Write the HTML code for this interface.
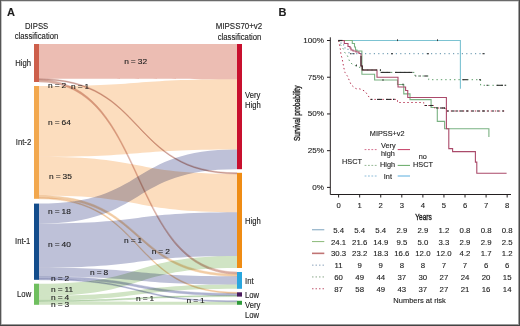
<!DOCTYPE html>
<html><head><meta charset="utf-8"><style>
html,body{margin:0;padding:0;background:#fff;}
svg{display:block;}
text{font-family:"Liberation Sans",sans-serif;fill:#1e1e1e;stroke:#1e1e1e;stroke-width:0.12px;}
</style></head><body>
<svg width="520" height="326" viewBox="0 0 520 326">
<rect x="0" y="0" width="520" height="326" fill="#fff"/>
<g>
<path d="M39,44.00C147.9,44.00 128.1,44.00 237,44.00L237,79.14C128.1,79.14 147.9,78.74 39,78.74Z" fill="#ecbdb3" style="mix-blend-mode:multiply"/>
<path d="M39,78.74C147.9,78.74 128.1,172.80 237,172.80L237,173.89C128.1,173.89 147.9,79.83 39,79.83Z" fill="#c8968c" stroke="#c8968c" stroke-width="0.45" style="mix-blend-mode:multiply"/>
<path d="M39,79.83C147.9,79.83 128.1,272.00 237,272.00L237,274.10C128.1,274.10 147.9,82.00 39,82.00Z" fill="#d9ada1" stroke="#d9ada1" stroke-width="0.45" style="mix-blend-mode:multiply"/>
<path d="M39,86.00C147.9,86.00 128.1,79.14 237,79.14L237,149.43C128.1,149.43 147.9,156.78 39,156.78Z" fill="#fcddbe" style="mix-blend-mode:multiply"/>
<path d="M39,156.78C147.9,156.78 128.1,173.89 237,173.89L237,212.19C128.1,212.19 147.9,195.48 39,195.48Z" fill="#fcddbe" style="mix-blend-mode:multiply"/>
<path d="M39,195.48C147.9,195.48 128.1,274.10 237,274.10L237,276.20C128.1,276.20 147.9,197.69 39,197.69Z" fill="#f2cca4" stroke="#f2cca4" stroke-width="0.45" style="mix-blend-mode:multiply"/>
<path d="M39,197.69C147.9,197.69 128.1,292.30 237,292.30L237,293.38C128.1,293.38 147.9,198.80 39,198.80Z" fill="#f0c498" stroke="#f0c498" stroke-width="0.45" style="mix-blend-mode:multiply"/>
<path d="M39,203.60C147.9,203.60 128.1,149.43 237,149.43L237,169.20C128.1,169.20 147.9,223.48 39,223.48Z" fill="#bec1d8" style="mix-blend-mode:multiply"/>
<path d="M39,223.48C147.9,223.48 128.1,212.19 237,212.19L237,255.96C128.1,255.96 147.9,267.65 39,267.65Z" fill="#bec1d8" style="mix-blend-mode:multiply"/>
<path d="M39,267.65C147.9,267.65 128.1,276.20 237,276.20L237,284.60C128.1,284.60 147.9,276.49 39,276.49Z" fill="#bec1d8" style="mix-blend-mode:multiply"/>
<path d="M39,276.49C147.9,276.49 128.1,293.38 237,293.38L237,295.52C128.1,295.52 147.9,278.70 39,278.70Z" fill="#aeb2d0" stroke="#aeb2d0" stroke-width="0.45" style="mix-blend-mode:multiply"/>
<path d="M39,278.70C147.9,278.70 128.1,300.80 237,300.80L237,301.80C128.1,301.80 147.9,279.80 39,279.80Z" fill="#a4a8ca" stroke="#a4a8ca" stroke-width="0.45" style="mix-blend-mode:multiply"/>
<path d="M39,283.70C147.9,283.70 128.1,255.96 237,255.96L237,268.00C128.1,268.00 147.9,295.92 39,295.92Z" fill="#d0e4c4" style="mix-blend-mode:multiply"/>
<path d="M39,295.92C147.9,295.92 128.1,284.60 237,284.60L237,288.80C128.1,288.80 147.9,300.36 39,300.36Z" fill="#d0e4c4" style="mix-blend-mode:multiply"/>
<path d="M39,300.36C147.9,300.36 128.1,295.52 237,295.52L237,296.60C128.1,296.60 147.9,301.47 39,301.47Z" fill="#b4d2aa" stroke="#b4d2aa" stroke-width="0.45" style="mix-blend-mode:multiply"/>
<path d="M39,301.47C147.9,301.47 128.1,301.80 237,301.80L237,304.80C128.1,304.80 147.9,304.80 39,304.80Z" fill="#d0e4c4" style="mix-blend-mode:multiply"/>
</g>
<rect x="34" y="44" width="5" height="38.00" fill="#cd5f4b"/>
<rect x="34" y="86" width="5" height="112.80" fill="#f2a84e"/>
<rect x="34" y="203.6" width="5" height="76.20" fill="#134d8c"/>
<rect x="34" y="283.7" width="5" height="21.10" fill="#6fbf5f"/>
<rect x="237" y="44" width="5" height="125.20" fill="#c8102e"/>
<rect x="237" y="172.8" width="5" height="95.20" fill="#ef8c14"/>
<rect x="237" y="272" width="5" height="16.80" fill="#29a6de"/>
<rect x="237" y="292.3" width="5" height="4.30" fill="#4a1a5c"/>
<rect x="237" y="300.8" width="5" height="4.00" fill="#2e9a3a"/>
<text transform="translate(7,16.4)" font-size="11" font-weight="bold" fill="#000">A</text>
<text transform="translate(36.6,29.3) scale(1.0,1.12)" font-size="7.7" text-anchor="middle">DIPSS</text>
<text transform="translate(36.5,38.7) scale(1.0,1.12)" font-size="7.7" text-anchor="middle">classification</text>
<text transform="translate(239,29.3) scale(1.03,1.12)" font-size="7.7" text-anchor="middle">MIPSS70+v2</text>
<text transform="translate(239.5,40.1) scale(1.0,1.12)" font-size="7.7" text-anchor="middle">classification</text>
<text transform="translate(31,65.8) scale(1.0,1.12)" font-size="7.7" text-anchor="end">High</text>
<text transform="translate(31.2,144.8) scale(1.0,1.12)" font-size="7.7" text-anchor="end">Int-2</text>
<text transform="translate(30.4,244) scale(1.0,1.12)" font-size="7.7" text-anchor="end">Int-1</text>
<text transform="translate(31.2,296.6) scale(1.0,1.12)" font-size="7.7" text-anchor="end">Low</text>
<text transform="translate(245,98.4) scale(1.0,1.12)" font-size="7.7">Very</text>
<text transform="translate(245,107.6) scale(1.0,1.12)" font-size="7.7">High</text>
<text transform="translate(245,224.2) scale(1.0,1.12)" font-size="7.7">High</text>
<text transform="translate(245,283.6) scale(1.0,1.12)" font-size="7.7">Int</text>
<text transform="translate(245,297.5) scale(1.0,1.12)" font-size="7.7">Low</text>
<text transform="translate(245,307.6) scale(1.0,1.12)" font-size="7.7">Very</text>
<text transform="translate(245,317.5) scale(1.0,1.12)" font-size="7.7">Low</text>
<text transform="translate(124.2,63.7) scale(1.12,1.0)" font-size="7.5" word-spacing="-0.3">n = 32</text>
<text transform="translate(48,87.8) scale(1.12,1.0)" font-size="7.5" word-spacing="-0.3">n = 2</text>
<text transform="translate(71,88.8) scale(1.12,1.0)" font-size="7.5" word-spacing="-0.3">n = 1</text>
<text transform="translate(48,124.5) scale(1.12,1.0)" font-size="7.5" word-spacing="-0.3">n = 64</text>
<text transform="translate(49,178.6) scale(1.12,1.0)" font-size="7.5" word-spacing="-0.3">n = 35</text>
<text transform="translate(48,213.9) scale(1.12,1.0)" font-size="7.5" word-spacing="-0.3">n = 18</text>
<text transform="translate(48,246.6) scale(1.12,1.0)" font-size="7.5" word-spacing="-0.3">n = 40</text>
<text transform="translate(124,243) scale(1.12,1.0)" font-size="7.5" word-spacing="-0.3">n = 1</text>
<text transform="translate(151.7,253.8) scale(1.12,1.0)" font-size="7.5" word-spacing="-0.3">n = 2</text>
<text transform="translate(90,275) scale(1.12,1.0)" font-size="7.5" word-spacing="-0.3">n = 8</text>
<text transform="translate(51,281) scale(1.12,1.0)" font-size="7.5" word-spacing="-0.3">n = 2</text>
<text transform="translate(51,291.9) scale(1.12,1.0)" font-size="7.5" word-spacing="-0.3">n = 11</text>
<text transform="translate(51,300) scale(1.12,1.0)" font-size="7.5" word-spacing="-0.3">n = 4</text>
<text transform="translate(51,306.5) scale(1.12,1.0)" font-size="7.5" word-spacing="-0.3">n = 3</text>
<text transform="translate(136,300.8) scale(1.12,1.0)" font-size="7.5" word-spacing="-0.3">n = 1</text>
<text transform="translate(186.5,302.5) scale(1.12,1.0)" font-size="7.5" word-spacing="-0.3">n = 1</text>
<path d="M338.60,40.50 L460.40,40.50 L460.40,88.80" fill="none" stroke="#7cc3d2" stroke-width="1.1"/>
<path d="M338.60,40.50 L352.30,40.50 L352.30,43.50 L354.50,43.50 L354.50,47.00 L355.50,47.00 L355.50,50.00 L357.00,50.00 L357.00,51.00 L361.90,51.00 L361.90,74.20 L374.60,74.20 L374.60,80.00 L397.50,80.00 L397.50,84.50 L403.75,84.50 L403.75,93.90 L410.00,93.90 L410.00,99.60 L431.10,99.60 L431.10,107.50 L437.30,107.50 L437.30,121.40 L444.60,121.40 L444.60,128.70 L488.90,128.70 L488.90,137.10" fill="none" stroke="#7ab282" stroke-width="1.1"/>
<path d="M338.60,40.50 L344.30,40.50 L344.30,43.50 L348.00,43.50 L348.00,46.50 L350.00,46.50 L350.00,48.00 L351.00,48.00 L351.00,50.00 L353.00,50.00 L353.00,51.00 L356.00,51.00 L356.00,52.00 L359.00,52.00 L359.00,53.50 L361.00,53.50 L361.00,66.00 L362.30,66.00 L362.30,70.00 L377.00,70.00 L377.00,77.30 L398.00,77.30 L398.00,87.00 L405.60,87.00 L405.60,90.50 L407.75,90.50 L407.75,97.50 L446.40,97.50 L446.40,128.80 L448.80,128.80 L448.80,148.60 L452.60,148.60 L452.60,151.60 L475.40,151.60 L475.40,162.10 L476.80,162.10 L476.80,173.30 L506.60,173.30 L506.60,173.30" fill="none" stroke="#aa4a6a" stroke-width="1.1"/>
<path d="M338.60,40.50 L341.00,40.50 L341.00,44.90 L345.00,44.90 L345.00,49.30 L349.00,49.30 L349.00,53.70 L484.40,53.70 L484.40,53.70" fill="none" stroke="#5a8ea8" stroke-width="1.0" stroke-dasharray="1.2,3.2"/>
<path d="M338.60,40.50 L340.00,44.00 L342.00,47.00 L344.00,50.00 L345.00,53.00 L347.00,55.00 L348.00,57.00 L350.00,62.50 L353.75,65.00 L360.00,67.50 L362.30,68.50 L364.00,70.00 L380.40,70.00 L380.40,72.40 L415.00,72.40 L415.00,76.00 L428.70,76.00 L428.70,79.70 L480.60,79.70 L480.60,85.30 L506.30,85.30" fill="none" stroke="#5e9e6a" stroke-width="1.0" stroke-dasharray="1.4,3.0"/>
<path d="M338.60,40.50 L339.50,45.00 L340.50,50.00 L341.00,55.00 L342.00,58.00 L343.75,67.50 L345.00,72.50 L347.50,76.25 L351.25,85.00 L356.00,88.75 L360.00,88.90 L365.00,91.25 L367.00,94.00 L370.60,99.40 L397.50,99.40 L397.50,102.50 L423.75,102.50 L423.75,105.50 L434.50,105.50 L434.50,108.00 L446.00,108.00 L446.00,111.00 L505.00,111.00" fill="none" stroke="#b5304f" stroke-width="1.0" stroke-dasharray="1.4,2.6"/>
<path d="M361.00,56.00 L361.00,66.00 L362.30,66.00 L362.30,70.00 L377.00,70.00" fill="none" stroke="#3a2a2a" stroke-width="1.1"/>
<path d="M338.30,40.50 L342.50,40.50" fill="none" stroke="#2a2a2a" stroke-width="1.2"/>
<path d="M380.60,72.40 L390.60,72.40" fill="none" stroke="#2a2a2a" stroke-width="1.1"/>
<path d="M395.00,72.40 L412.50,72.40" fill="none" stroke="#2a2a2a" stroke-width="1.1"/>
<path d="M415.30,76.00 L416.30,76.00" fill="none" stroke="#2a2a2a" stroke-width="1.1"/>
<path d="M419.50,76.00 L420.80,76.00" fill="none" stroke="#2a2a2a" stroke-width="1.1"/>
<path d="M424.20,76.00 L427.50,76.00" fill="none" stroke="#2a2a2a" stroke-width="1.1"/>
<path d="M462.30,79.70 L467.80,79.70" fill="none" stroke="#2a2a2a" stroke-width="1.1"/>
<path d="M479.00,79.70 L481.00,79.70" fill="none" stroke="#2a2a2a" stroke-width="1.1"/>
<path d="M486.50,85.30 L488.00,85.30" fill="none" stroke="#2a2a2a" stroke-width="1.1"/>
<path d="M496.50,85.30 L503.00,85.30" fill="none" stroke="#2a2a2a" stroke-width="1.1"/>
<path d="M504.50,85.30 L506.00,85.30" fill="none" stroke="#2a2a2a" stroke-width="1.1"/>
<path d="M370.60,99.40 L372.50,99.40" fill="none" stroke="#2a2a2a" stroke-width="1.1"/>
<path d="M377.00,99.40 L382.00,99.40" fill="none" stroke="#2a2a2a" stroke-width="1.1"/>
<path d="M386.00,99.40 L391.00,99.40" fill="none" stroke="#2a2a2a" stroke-width="1.1"/>
<path d="M393.00,99.40 L394.50,99.40" fill="none" stroke="#2a2a2a" stroke-width="1.1"/>
<path d="M425.00,105.50 L427.00,105.50" fill="none" stroke="#2a2a2a" stroke-width="1.1"/>
<path d="M429.50,105.50 L433.00,105.50" fill="none" stroke="#2a2a2a" stroke-width="1.1"/>
<path d="M436.00,108.00 L438.00,108.00" fill="none" stroke="#2a2a2a" stroke-width="1.1"/>
<path d="M440.00,108.00 L444.60,108.00" fill="none" stroke="#2a2a2a" stroke-width="1.1"/>
<path d="M447.00,111.00 L449.00,111.00" fill="none" stroke="#2a2a2a" stroke-width="1.1"/>
<path d="M451.50,111.00 L454.50,111.00" fill="none" stroke="#2a2a2a" stroke-width="1.1"/>
<path d="M456.00,111.00 L458.00,111.00" fill="none" stroke="#2a2a2a" stroke-width="1.1"/>
<path d="M460.00,111.00 L463.50,111.00" fill="none" stroke="#2a2a2a" stroke-width="1.1"/>
<path d="M466.00,111.00 L468.50,111.00" fill="none" stroke="#2a2a2a" stroke-width="1.1"/>
<path d="M471.50,111.00 L474.00,111.00" fill="none" stroke="#2a2a2a" stroke-width="1.1"/>
<path d="M477.00,111.00 L479.50,111.00" fill="none" stroke="#2a2a2a" stroke-width="1.1"/>
<path d="M482.00,111.00 L485.00,111.00" fill="none" stroke="#2a2a2a" stroke-width="1.1"/>
<path d="M487.50,111.00 L489.00,111.00" fill="none" stroke="#2a2a2a" stroke-width="1.1"/>
<path d="M492.00,111.00 L494.00,111.00" fill="none" stroke="#2a2a2a" stroke-width="1.1"/>
<path d="M497.00,111.00 L499.00,111.00" fill="none" stroke="#2a2a2a" stroke-width="1.1"/>
<path d="M502.00,111.00 L504.00,111.00" fill="none" stroke="#2a2a2a" stroke-width="1.1"/>
<path d="M391.00,53.70 L393.00,53.70" fill="none" stroke="#2a2a2a" stroke-width="1.1"/>
<path d="M427.00,53.70 L429.00,53.70" fill="none" stroke="#2a2a2a" stroke-width="1.1"/>
<path d="M482.50,53.70 L484.50,53.70" fill="none" stroke="#2a2a2a" stroke-width="1.1"/>
<path d="M350.00,53.70 L351.50,53.70" fill="none" stroke="#2a2a2a" stroke-width="1.1"/>
<path d="M353.00,53.70 L354.50,53.70" fill="none" stroke="#2a2a2a" stroke-width="1.1"/>
<path d="M397.50,39.30 L397.50,41.10" fill="none" stroke="#2a2a2a" stroke-width="0.9"/>
<path d="M437.50,39.30 L437.50,41.10" fill="none" stroke="#2a2a2a" stroke-width="0.9"/>
<path d="M383.00,79.10 L383.00,80.90" fill="none" stroke="#2a2a2a" stroke-width="0.9"/>
<path d="M403.00,83.60 L403.00,85.40" fill="none" stroke="#2a2a2a" stroke-width="0.9"/>
<path d="M444.40,107.20 L444.40,109.00" fill="none" stroke="#2a2a2a" stroke-width="0.9"/>
<path d="M356.50,64.50 L356.50,66.30" fill="none" stroke="#2a2a2a" stroke-width="0.9"/>
<path d="M380.40,69.10 L380.40,70.90" fill="none" stroke="#2a2a2a" stroke-width="0.9"/>
<g stroke="#231f20" stroke-width="1">
<path d="M330.3,37.3 V194.5 H511" fill="none"/>
<line x1="327" y1="40.50" x2="330.3" y2="40.50"/>
<line x1="327" y1="77.22" x2="330.3" y2="77.22"/>
<line x1="327" y1="113.95" x2="330.3" y2="113.95"/>
<line x1="327" y1="150.68" x2="330.3" y2="150.68"/>
<line x1="327" y1="187.40" x2="330.3" y2="187.40"/>
<line x1="338.60" y1="194.5" x2="338.60" y2="197.5"/>
<line x1="359.67" y1="194.5" x2="359.67" y2="197.5"/>
<line x1="380.74" y1="194.5" x2="380.74" y2="197.5"/>
<line x1="401.81" y1="194.5" x2="401.81" y2="197.5"/>
<line x1="422.88" y1="194.5" x2="422.88" y2="197.5"/>
<line x1="443.95" y1="194.5" x2="443.95" y2="197.5"/>
<line x1="465.02" y1="194.5" x2="465.02" y2="197.5"/>
<line x1="486.09" y1="194.5" x2="486.09" y2="197.5"/>
<line x1="507.16" y1="194.5" x2="507.16" y2="197.5"/>
</g>
<text transform="translate(278.5,16.3)" font-size="11" font-weight="bold" fill="#000">B</text>
<text transform="translate(323.9,43.0)" font-size="8.1" text-anchor="end">100%</text>
<text transform="translate(323.9,79.72)" font-size="8.1" text-anchor="end">75%</text>
<text transform="translate(323.9,116.45)" font-size="8.1" text-anchor="end">50%</text>
<text transform="translate(323.9,153.18)" font-size="8.1" text-anchor="end">25%</text>
<text transform="translate(323.9,189.9)" font-size="8.1" text-anchor="end">0%</text>
<text transform="translate(338.6,207.5)" font-size="7.7" text-anchor="middle">0</text>
<text transform="translate(359.67,207.5)" font-size="7.7" text-anchor="middle">1</text>
<text transform="translate(380.74,207.5)" font-size="7.7" text-anchor="middle">2</text>
<text transform="translate(401.81,207.5)" font-size="7.7" text-anchor="middle">3</text>
<text transform="translate(422.88,207.5)" font-size="7.7" text-anchor="middle">4</text>
<text transform="translate(443.95,207.5)" font-size="7.7" text-anchor="middle">5</text>
<text transform="translate(465.02,207.5)" font-size="7.7" text-anchor="middle">6</text>
<text transform="translate(486.09,207.5)" font-size="7.7" text-anchor="middle">7</text>
<text transform="translate(507.16,207.5)" font-size="7.7" text-anchor="middle">8</text>
<text transform="translate(423.5,220.4) scale(0.76,1.0)" font-size="8.6" text-anchor="middle" style="stroke-width:0.4px">Years</text>
<text transform="translate(299.8,113.3) rotate(-90) scale(0.78,1.0)" font-size="8.5" text-anchor="middle" style="stroke-width:0.35px">Survival probability</text>
<text transform="translate(369.8,136.2)" font-size="7.3">MIPSS+v2</text>
<text transform="translate(381,148)" font-size="7.3">Very</text>
<text transform="translate(381,156)" font-size="7.3">high</text>
<text transform="translate(380,166.5)" font-size="7.3">High</text>
<text transform="translate(383.8,178.5)" font-size="7.3">Int</text>
<text transform="translate(342,163.5)" font-size="7.3">HSCT</text>
<text transform="translate(418.8,158.8)" font-size="7.3">no</text>
<text transform="translate(413,167.3)" font-size="7.3">HSCT</text>
<line x1="364.6" y1="149.6" x2="377" y2="149.6" stroke="#d4708e" stroke-width="1" stroke-dasharray="1.8,1.6"/>
<line x1="397.7" y1="149.6" x2="410" y2="149.6" stroke="#c43c64" stroke-width="1.0"/>
<line x1="364.6" y1="165.4" x2="377" y2="165.4" stroke="#94b894" stroke-width="1" stroke-dasharray="1.8,1.6"/>
<line x1="397.7" y1="165.4" x2="410" y2="165.4" stroke="#64a864" stroke-width="1.0"/>
<line x1="364.6" y1="176" x2="377" y2="176" stroke="#8cbcd8" stroke-width="1" stroke-dasharray="1.8,1.6"/>
<line x1="397.7" y1="176" x2="410" y2="176" stroke="#5aaede" stroke-width="1.0"/>
<text transform="translate(338.6,232.8)" font-size="7.8" text-anchor="middle">5.4</text>
<text transform="translate(359.67,232.8)" font-size="7.8" text-anchor="middle">5.4</text>
<text transform="translate(380.74,232.8)" font-size="7.8" text-anchor="middle">5.4</text>
<text transform="translate(401.81,232.8)" font-size="7.8" text-anchor="middle">2.9</text>
<text transform="translate(422.88,232.8)" font-size="7.8" text-anchor="middle">2.9</text>
<text transform="translate(443.95,232.8)" font-size="7.8" text-anchor="middle">1.2</text>
<text transform="translate(465.02,232.8)" font-size="7.8" text-anchor="middle">0.8</text>
<text transform="translate(486.09,232.8)" font-size="7.8" text-anchor="middle">0.8</text>
<text transform="translate(507.16,232.8)" font-size="7.8" text-anchor="middle">0.8</text>
<line x1="312" y1="229.75" x2="324.3" y2="229.75" stroke="#88aac4" stroke-width="1.1"/>
<text transform="translate(338.6,244.6)" font-size="7.8" text-anchor="middle">24.1</text>
<text transform="translate(359.67,244.6)" font-size="7.8" text-anchor="middle">21.6</text>
<text transform="translate(380.74,244.6)" font-size="7.8" text-anchor="middle">14.9</text>
<text transform="translate(401.81,244.6)" font-size="7.8" text-anchor="middle">9.5</text>
<text transform="translate(422.88,244.6)" font-size="7.8" text-anchor="middle">5.0</text>
<text transform="translate(443.95,244.6)" font-size="7.8" text-anchor="middle">3.3</text>
<text transform="translate(465.02,244.6)" font-size="7.8" text-anchor="middle">2.9</text>
<text transform="translate(486.09,244.6)" font-size="7.8" text-anchor="middle">2.9</text>
<text transform="translate(507.16,244.6)" font-size="7.8" text-anchor="middle">2.5</text>
<line x1="312" y1="241.55" x2="324.3" y2="241.55" stroke="#94bf84" stroke-width="1.1"/>
<text transform="translate(338.6,256.4)" font-size="7.8" text-anchor="middle">30.3</text>
<text transform="translate(359.67,256.4)" font-size="7.8" text-anchor="middle">23.2</text>
<text transform="translate(380.74,256.4)" font-size="7.8" text-anchor="middle">18.3</text>
<text transform="translate(401.81,256.4)" font-size="7.8" text-anchor="middle">16.6</text>
<text transform="translate(422.88,256.4)" font-size="7.8" text-anchor="middle">12.0</text>
<text transform="translate(443.95,256.4)" font-size="7.8" text-anchor="middle">12.0</text>
<text transform="translate(465.02,256.4)" font-size="7.8" text-anchor="middle">4.2</text>
<text transform="translate(486.09,256.4)" font-size="7.8" text-anchor="middle">1.7</text>
<text transform="translate(507.16,256.4)" font-size="7.8" text-anchor="middle">1.2</text>
<line x1="312" y1="253.35" x2="324.3" y2="253.35" stroke="#c07474" stroke-width="1.6"/>
<text transform="translate(338.6,268.2)" font-size="7.8" text-anchor="middle">11</text>
<text transform="translate(359.67,268.2)" font-size="7.8" text-anchor="middle">9</text>
<text transform="translate(380.74,268.2)" font-size="7.8" text-anchor="middle">9</text>
<text transform="translate(401.81,268.2)" font-size="7.8" text-anchor="middle">8</text>
<text transform="translate(422.88,268.2)" font-size="7.8" text-anchor="middle">8</text>
<text transform="translate(443.95,268.2)" font-size="7.8" text-anchor="middle">7</text>
<text transform="translate(465.02,268.2)" font-size="7.8" text-anchor="middle">7</text>
<text transform="translate(486.09,268.2)" font-size="7.8" text-anchor="middle">6</text>
<text transform="translate(507.16,268.2)" font-size="7.8" text-anchor="middle">6</text>
<line x1="312" y1="265.15" x2="324.3" y2="265.15" stroke="#8ca4bc" stroke-width="1.0" stroke-dasharray="1.5,2"/>
<text transform="translate(338.6,280.0)" font-size="7.8" text-anchor="middle">60</text>
<text transform="translate(359.67,280.0)" font-size="7.8" text-anchor="middle">49</text>
<text transform="translate(380.74,280.0)" font-size="7.8" text-anchor="middle">44</text>
<text transform="translate(401.81,280.0)" font-size="7.8" text-anchor="middle">37</text>
<text transform="translate(422.88,280.0)" font-size="7.8" text-anchor="middle">30</text>
<text transform="translate(443.95,280.0)" font-size="7.8" text-anchor="middle">27</text>
<text transform="translate(465.02,280.0)" font-size="7.8" text-anchor="middle">24</text>
<text transform="translate(486.09,280.0)" font-size="7.8" text-anchor="middle">20</text>
<text transform="translate(507.16,280.0)" font-size="7.8" text-anchor="middle">15</text>
<line x1="312" y1="276.95" x2="324.3" y2="276.95" stroke="#8ca88c" stroke-width="1.0" stroke-dasharray="1.5,2"/>
<text transform="translate(338.6,291.8)" font-size="7.8" text-anchor="middle">87</text>
<text transform="translate(359.67,291.8)" font-size="7.8" text-anchor="middle">58</text>
<text transform="translate(380.74,291.8)" font-size="7.8" text-anchor="middle">49</text>
<text transform="translate(401.81,291.8)" font-size="7.8" text-anchor="middle">43</text>
<text transform="translate(422.88,291.8)" font-size="7.8" text-anchor="middle">37</text>
<text transform="translate(443.95,291.8)" font-size="7.8" text-anchor="middle">27</text>
<text transform="translate(465.02,291.8)" font-size="7.8" text-anchor="middle">21</text>
<text transform="translate(486.09,291.8)" font-size="7.8" text-anchor="middle">16</text>
<text transform="translate(507.16,291.8)" font-size="7.8" text-anchor="middle">14</text>
<line x1="312" y1="288.75" x2="324.3" y2="288.75" stroke="#c05a70" stroke-width="1.0" stroke-dasharray="1.5,2"/>
<text transform="translate(393.3,303.1)" font-size="7.5">Numbers at risk</text>
<rect x="0" y="0" width="520" height="1" fill="#6a6a6a"/>
<rect x="0" y="1" width="520" height="1" fill="#d8d8d8"/>
<rect x="0" y="0" width="1" height="326" fill="#555"/>
<rect x="1" y="1" width="1" height="324" fill="#c4c4c4"/>
<rect x="519" y="0" width="1" height="326" fill="#4a4a4a"/>
<rect x="518" y="1" width="1" height="324" fill="#a0a0a0"/>
<rect x="0" y="325" width="520" height="1" fill="#444"/>
<rect x="1" y="324" width="518" height="1" fill="#9a9a9a"/>
</svg>
</body></html>
